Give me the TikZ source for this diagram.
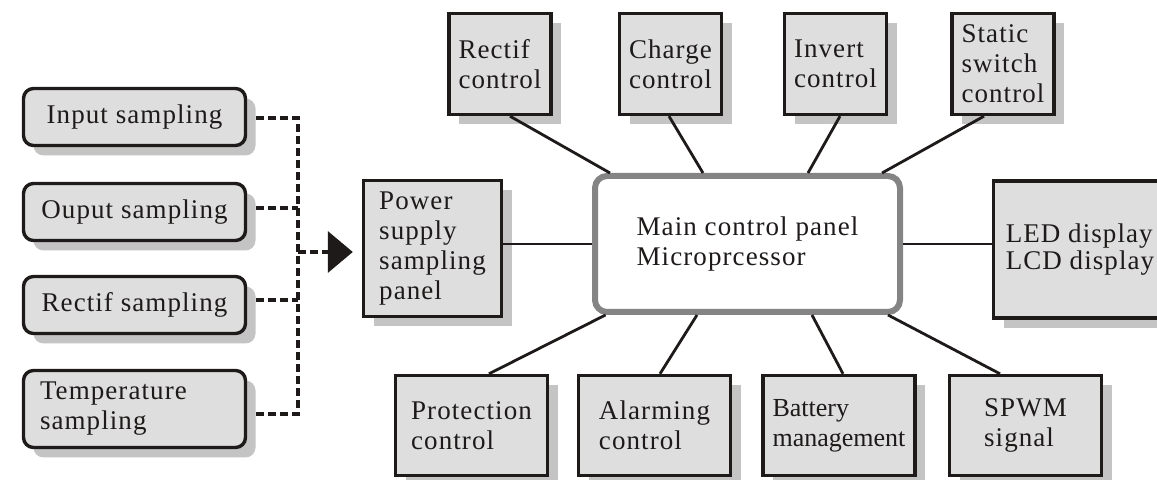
\documentclass[tikz,border=0pt]{standalone}
\usepackage{fontspec}
\setmainfont{Liberation Serif}[LetterSpace=4]
\usetikzlibrary{shadows,arrows.meta}
\definecolor{boxfill}{HTML}{DEDEDE}
\definecolor{shadowgray}{HTML}{C4C4C4}
\definecolor{maingray}{HTML}{848484}
\definecolor{ink}{HTML}{1E1A1A}
\begin{document}
\begin{tikzpicture}[x=0.5pt,y=-0.5pt,
  blk/.style={draw=ink, line width=1.7pt, fill=boxfill, inner sep=0pt, align=left, text=ink,
    font=\fontsize{13.5}{15}\selectfont,
    drop shadow={shadow xshift=5pt, shadow yshift=-5pt, fill=shadowgray, opacity=1, draw=none}},
  samp/.style={blk, rounded corners=5pt, minimum width=111pt, minimum height=28.5pt},
  topbox/.style={blk, minimum width=51pt, minimum height=50.5pt},
  botbox/.style={blk, minimum width=76pt, minimum height=50pt},
  mainbox/.style={draw=maingray, line width=3pt, fill=white, rounded corners=6pt, align=left,
    inner sep=0pt, text=ink, font=\fontsize{13.5}{15}\selectfont,
    minimum width=152.5pt, minimum height=68pt},
  link/.style={draw=ink, line width=1.4pt},
  dl/.style={draw=ink, line width=1.9pt, dash pattern=on 4pt off 2pt},
]
\useasboundingbox (0,0) rectangle (1157,480);
\clip (0,0) rectangle (1157,480);

% sampling boxes
\node[samp] (in)   at (134.5,117) {Input sampling};
\node[samp] (out)  at (134.5,212) {Ouput sampling};
\node[samp] (rs)   at (134.5,305) {Rectif sampling};
\node[samp, minimum height=38.5pt, text width=94.5pt, inner xsep=8.25pt] (temp) at (134.5,409) {Temperature\\sampling};

% power supply panel
\node[blk, minimum width=69pt, minimum height=68pt] (pw) at (432.5,248.5) {Power\\supply\\sampling\\panel};

% top boxes
\node[topbox] (rc) at (500,64)   {Rectif\\control};
\node[topbox] (cc) at (670.5,64) {Charge\\control};
\node[topbox] (ic) at (835.5,64) {Invert\\control};
\node[topbox] (sc) at (1003,64)  {Static\\switch\\control};

% main
\node[mainbox] (main) at (747.5,244) {Main control panel\\Microprcessor};

% display
\node[blk, minimum width=86.5pt, minimum height=68.5pt, font=\fontsize{13.5}{11}\selectfont] (led) at (1080,249.5) {LED display\\LCD display};

% bottom boxes
\node[botbox] (pc) at (471.5,425.5) {Protection\\control};
\node[botbox] (ac) at (654.5,425.5) {Alarming\\control};
\node[botbox, font=\fontsize{13}{15}\selectfont\addfontfeature{LetterSpace=0}] (bm) at (839,425.5) {Battery\\management};
\node[botbox] (sp) at (1025.5,425.5) {SPWM\\signal};

% solid connectors
\draw[link] ([xshift=5pt]rc.south) -- ([xshift=-68.75pt]main.north);
\draw[link] ([xshift=-0.75pt]cc.south) -- ([xshift=-22.25pt]main.north);
\draw[link] ([xshift=2.25pt]ic.south) -- ([xshift=30.25pt]main.north);
\draw[link] ([xshift=-9.5pt]sc.south) -- ([xshift=67.25pt]main.north);
\draw[link] (pw.east |- main.west) -- (main.west);
\draw[link] (main.east) -- (main.east -| led.west);
\draw[link] ([xshift=8.75pt]pc.north) -- ([xshift=-71pt]main.south);
\draw[link] ([xshift=2.75pt]ac.north) -- ([xshift=-25.25pt]main.south);
\draw[link] ([xshift=2pt]bm.north) -- ([xshift=32.25pt]main.south);
\draw[link] ([xshift=-12.75pt]sp.north) -- ([xshift=70.25pt]main.south);

% dashed sampling bus
\coordinate (bx) at (298,0);
\path ([xshift=4.5pt,yshift=-0.5pt]in.east) coordinate (d1)
      ([xshift=4.5pt,yshift=2pt]out.east) coordinate (d2)
      ([xshift=4.5pt,yshift=2.5pt]rs.east) coordinate (d3)
      ([xshift=4.5pt,yshift=-2.5pt]temp.east) coordinate (d4);
\draw[dl] (d1) -| (d4 -| bx) -- (d4);
\draw[dl] (d2) -- (d2 -| bx);
\draw[dl] (d3) -- (d3 -| bx);
\draw[dl, -{Triangle[length=12.5pt,width=20.5pt]}, shorten >=4.5pt]
  ([yshift=-1.75pt]pw.west -| bx) -- ([yshift=-1.75pt]pw.west);
\end{tikzpicture}
\end{document}
